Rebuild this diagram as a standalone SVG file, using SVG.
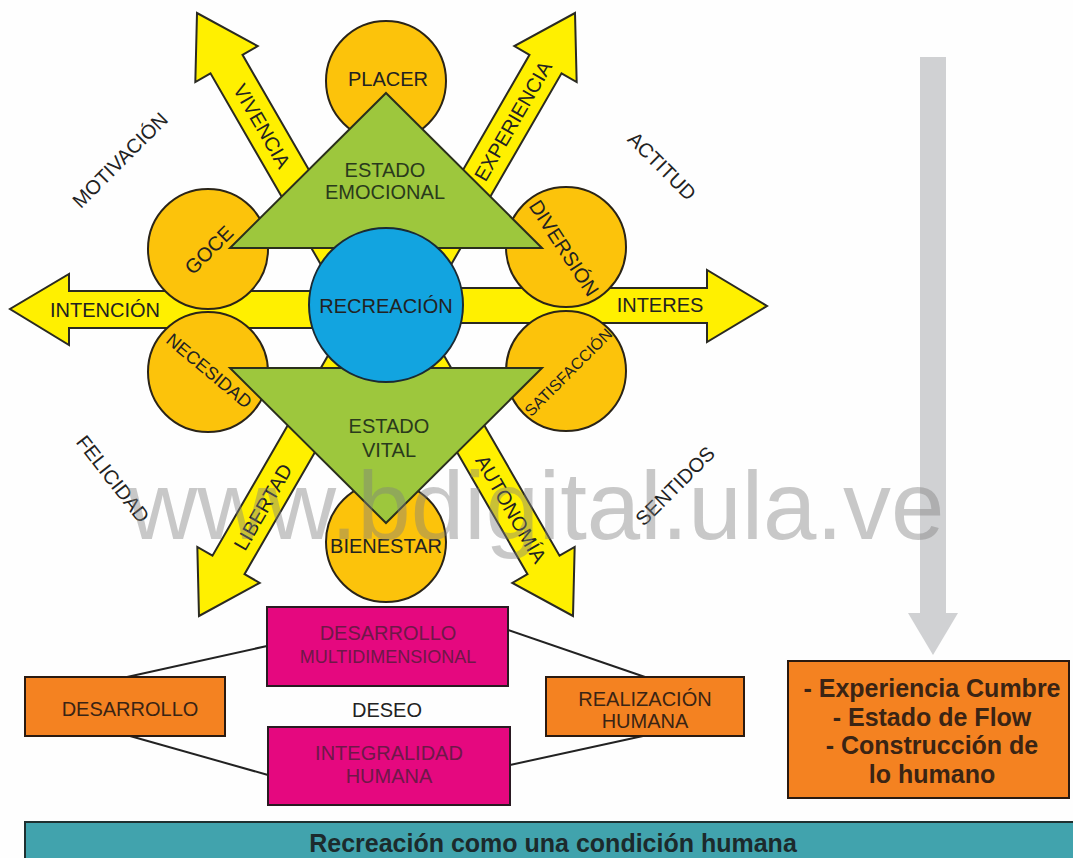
<svg xmlns="http://www.w3.org/2000/svg" width="1073" height="858" viewBox="0 0 1073 858">
<defs>
<style>
text{font-family:"Liberation Sans",Arial,sans-serif;font-size:20px;fill:#222;text-anchor:middle}
.arrow{fill:#fff000;stroke:#2a2a22;stroke-width:2;stroke-linejoin:miter}
.circ{fill:#fcc30b;stroke:#2a2418;stroke-width:2}
.tri{fill:#9dc73d;stroke:#2a2f1c;stroke-width:2;stroke-linejoin:miter}
.mag{fill:#e5087f;stroke:#2a1a22;stroke-width:2}
.org{fill:#f48221;stroke:#2a1a10;stroke-width:2}
.conn{stroke:#222;stroke-width:2;fill:none}
.tg{fill:#2a3a1c}
.tm{fill:#6e1848}
.to{fill:#3a2414}
.bold{font-weight:bold}
</style>
</defs>
<rect width="1073" height="858" fill="#fefefe"/>

<g id="arrows">
  <g id="arrow-vivencia"><polygon class="arrow" points="0,-18.5 286,-18.5 286,-36 345,0 286,36 286,18.5 0,18.5" transform="translate(369.5,311.8) rotate(-120)"/></g>
  <g id="arrow-experiencia"><polygon class="arrow" points="0,-18.5 286,-18.5 286,-36 345,0 286,36 286,18.5 0,18.5" transform="translate(402.5,311.8) rotate(-60)"/></g>
  <g id="arrow-libertad"><polygon class="arrow" points="0,-18.5 286,-18.5 286,-36 345,0 286,36 286,18.5 0,18.5" transform="translate(371.5,317.2) rotate(120)"/></g>
  <g id="arrow-autonomia"><polygon class="arrow" points="0,-18.5 286,-18.5 286,-36 345,0 286,36 286,18.5 0,18.5" transform="translate(400.5,317.2) rotate(60)"/></g>
  <g id="arrow-intencion"><polygon class="arrow" points="386,291 69,291 69,274 10,309 69,345 69,328 386,328"/></g>
  <g id="arrow-interes"><polygon class="arrow" points="386,288 707,288 707,270 767,306 707,342 707,323 386,323"/></g>
  <g id="arrow-grey">
    <rect x="920" y="57" width="26" height="557" fill="#d0d1d3"/>
    <polygon points="908,613 958,613 933,655" fill="#d0d1d3"/>
  </g>
</g>

<g id="connectors">
  <line class="conn" x1="127" y1="677" x2="267" y2="646"/>
  <line class="conn" x1="130" y1="736" x2="268" y2="775"/>
  <line class="conn" x1="508" y1="630" x2="645" y2="677"/>
  <line class="conn" x1="510" y1="765" x2="643" y2="736"/>
</g>

<g id="placer"><circle class="circ" cx="386" cy="81" r="60"/></g>
<g id="goce"><circle class="circ" cx="208" cy="249" r="60"/></g>
<g id="necesidad"><circle class="circ" cx="208" cy="372" r="60"/></g>
<g id="diversion"><circle class="circ" cx="566" cy="247" r="60"/></g>
<g id="satisfaccion"><circle class="circ" cx="566" cy="371" r="60"/></g>
<g id="bienestar"><circle class="circ" cx="386" cy="542" r="60"/></g>

<g id="estado-emocional"><polygon class="tri" points="386,93 542,248 230,248"/></g>
<g id="estado-vital"><polygon class="tri" points="230,368 542,368 386,523"/></g>
<g id="recreacion"><circle cx="386" cy="305" r="77" fill="#12a4e0" stroke="#1a2a33" stroke-width="2"/></g>

<g id="labels">
  <text x="388" y="86">PLACER</text>
  <text class="tg" x="385" y="177">ESTADO</text>
  <text class="tg" x="385" y="199">EMOCIONAL</text>
  <text x="386" y="313">RECREACIÓN</text>
  <text class="tg" x="389" y="433">ESTADO</text>
  <text class="tg" x="389" y="457">VITAL</text>
  <text x="386" y="553">BIENESTAR</text>
  <text x="105" y="317">INTENCIÓN</text>
  <text x="660" y="312">INTERES</text>
  <text transform="translate(262,126) rotate(60)" y="7">VIVENCIA</text>
  <text transform="translate(513,121) rotate(-60)" y="7">EXPERIENCIA</text>
  <text transform="translate(263,507) rotate(-60)" y="7">LIBERTAD</text>
  <text transform="translate(511,509) rotate(60)" y="7">AUTONOMÍA</text>
  <text transform="translate(209,250) rotate(-45)" y="7">GOCE</text>
  <text transform="translate(209,371) rotate(40)" y="6" style="font-size:18px">NECESIDAD</text>
  <text transform="translate(564,248) rotate(57)" y="7">DIVERSIÓN</text>
  <text transform="translate(568,372) rotate(-45)" y="6" style="font-size:16px">SATISFACCIÓN</text>
  <text transform="translate(120,160) rotate(-45)" y="7">MOTIVACIÓN</text>
  <text transform="translate(662,166) rotate(45)" y="7">ACTITUD</text>
  <text transform="translate(113,479) rotate(52)" y="7">FELICIDAD</text>
  <text transform="translate(675,486) rotate(-45)" y="7">SENTIDOS</text>
</g>

<g id="desarrollo-multidimensional">
  <rect class="mag" x="267" y="607" width="241" height="79"/>
  <text class="tm" x="388" y="640">DESARROLLO</text>
  <text class="tm" x="388" y="663" style="font-size:18px">MULTIDIMENSIONAL</text>
</g>
<g id="integralidad-humana">
  <rect class="mag" x="268" y="727" width="242" height="78"/>
  <text class="tm" x="389" y="760">INTEGRALIDAD</text>
  <text class="tm" x="389" y="783">HUMANA</text>
</g>
<g id="desarrollo">
  <rect class="org" x="25" y="677" width="200" height="59"/>
  <text class="to" x="130" y="716">DESARROLLO</text>
</g>
<g id="realizacion-humana">
  <rect class="org" x="546" y="677" width="198" height="59"/>
  <text class="to" x="645" y="706">REALIZACIÓN</text>
  <text class="to" x="645" y="728">HUMANA</text>
</g>
<g id="deseo"><text x="387" y="717">DESEO</text></g>

<g id="experiencia-cumbre">
  <rect class="org" x="788" y="661" width="281" height="137"/>
  <text class="to bold" x="932" y="697" style="font-size:25px">- Experiencia Cumbre</text>
  <text class="to bold" x="932" y="726" style="font-size:25px">- Estado de Flow</text>
  <text class="to bold" x="932" y="754" style="font-size:25px">- Construcción de</text>
  <text class="to bold" x="932" y="783" style="font-size:25px">lo humano</text>
</g>

<g id="condicion-humana">
  <rect x="25" y="822" width="1060" height="50" fill="#41a3ad" stroke="#1f3030" stroke-width="2"/>
  <text class="bold" x="553" y="852" style="font-size:25px;fill:#1c2a2c">Recreación como una condición humana</text>
</g>

<g id="watermark">
  <text x="128" y="539" style="font-size:96px;fill:#808080;opacity:0.42;text-anchor:start">www.bdigital.ula.ve</text>
</g>
</svg>
